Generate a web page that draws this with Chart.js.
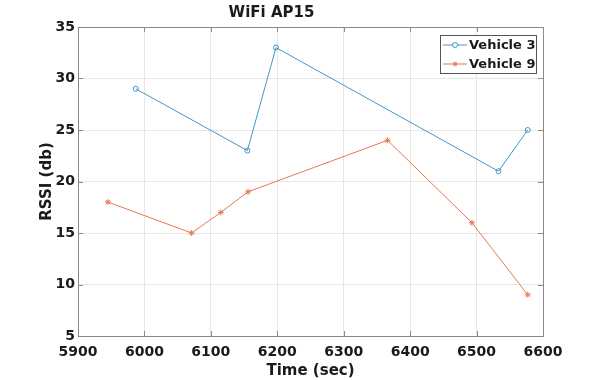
<!DOCTYPE html>
<html><head><meta charset="utf-8">
<script src="https://cdn.jsdelivr.net/npm/chart.js@4"></script>
<style>html,body{margin:0;padding:0;background:#fff}#wrap{width:600px;height:380px}</style>
</head><body><div id="wrap"><canvas id="c" width="600" height="380"></canvas></div>
<script>
const chartTitle = 'WiFi AP15';
const xTitle = 'Time (sec)';
const yTitle = 'RSSI (db)';
const seriesNames = ['Vehicle 3', 'Vehicle 9'];
const v3Time = [5987, 6155, 6198, 6533, 6577];
const v3Rssi = [29, 23, 33, 21, 25];
const v9Time = [5945, 6071, 6115, 6156, 6366, 6493, 6577];
const v9Rssi = [18, 15, 17, 19, 24, 16, 9];
const xTicks = [5900, 6000, 6100, 6200, 6300, 6400, 6500, 6600];
const yTicks = [5, 10, 15, 20, 25, 30, 35];

const blue = 'rgb(64,150,200)';
const orange = 'rgb(228,120,78)';
const FONT = 'DejaVu Sans';

const boxPlugin = {
  id: 'box',
  afterDatasetsDraw(chart) {
    const {ctx, chartArea: a, scales: {x, y}} = chart;
    ctx.save();
    ctx.strokeStyle = '#8a8a8a';
    ctx.lineWidth = 1;
    ctx.beginPath();
    for (const t of xTicks) {
      const px = Math.round(x.getPixelForValue(t)) + 0.5;
      ctx.moveTo(px, a.bottom); ctx.lineTo(px, a.bottom - 5);
      ctx.moveTo(px, a.top); ctx.lineTo(px, a.top + 5);
    }
    for (const t of yTicks) {
      const py = Math.round(y.getPixelForValue(t)) + 0.5;
      ctx.moveTo(a.left, py); ctx.lineTo(a.left + 5, py);
      ctx.moveTo(a.right, py); ctx.lineTo(a.right - 5, py);
    }
    ctx.stroke();
    ctx.strokeRect(Math.round(a.left) + 0.5, Math.round(a.top) + 0.5, Math.round(a.right - a.left), Math.round(a.bottom - a.top));
    // legend
    const lx = 440, ly = 35, lw = 96, lh = 38;
    ctx.fillStyle = '#fff';
    ctx.fillRect(lx, ly, lw, lh);
    ctx.strokeStyle = '#555';
    ctx.strokeRect(lx + 0.5, ly + 0.5, lw, lh);
    ctx.font = 'bold 13px "' + FONT + '"';
    ctx.textBaseline = 'middle';
    chart.data.datasets.forEach((ds, i) => {
      const yy = ly + 10 + i * 19;
      ctx.strokeStyle = ds.borderColor;
      ctx.lineWidth = 1;
      ctx.beginPath(); ctx.moveTo(lx + 3, yy); ctx.lineTo(lx + 27, yy); ctx.stroke();
      Chart.helpers.drawPoint(ctx, {pointStyle: ds.pointStyle, radius: 2.5, borderWidth: 1}, lx + 15, yy);
      ctx.fillStyle = '#1a1a1a';
      ctx.fillText(ds.label, lx + 29, yy + 1);
    });
    ctx.restore();
  }
};

new Chart(document.getElementById('c'), {
  type: 'line',
  data: {
    datasets: [
      {label: seriesNames[0], data: v3Time.map((t, i) => ({x: t, y: v3Rssi[i]})),
       borderColor: blue, backgroundColor: 'rgba(0,0,0,0)', borderWidth: 1,
       pointStyle: 'circle', pointRadius: 2.5, pointBorderColor: blue, pointBackgroundColor: 'rgba(0,0,0,0)', pointBorderWidth: 1, tension: 0},
      {label: seriesNames[1], data: v9Time.map((t, i) => ({x: t, y: v9Rssi[i]})),
       borderColor: orange, backgroundColor: orange, borderWidth: 1,
       pointStyle: 'star', pointRadius: 3, pointBorderColor: orange, pointBorderWidth: 1, tension: 0}
    ]
  },
  options: {
    responsive: false, animation: false, devicePixelRatio: 1,
    layout: {padding: {left: 0, right: 57, top: 0, bottom: 0}},
    plugins: {
      legend: {display: false},
      tooltip: {enabled: false},
      title: {display: true, text: chartTitle, color: '#1a1a1a',
        font: {family: FONT, size: 15, weight: 'bold'}, padding: {top: 4, bottom: 5}}
    },
    scales: {
      x: {type: 'linear', min: 5900, max: 6600,
        afterBuildTicks: s => { s.ticks = xTicks.map(v => ({value: v})); },
        afterFit: s => { s.height = 44; },
        grid: {color: '#e6e6e6', drawTicks: false},
        border: {display: false},
        ticks: {color: '#1a1a1a', font: {family: FONT, size: 14, weight: 'bold'}, padding: 8, maxRotation: 0, autoSkip: false,
          callback: v => String(v)},
        title: {display: true, text: xTitle, color: '#1a1a1a', font: {family: FONT, size: 15, weight: 'bold'}, padding: {top: 1, bottom: 0}}
      },
      y: {type: 'linear', min: 5, max: 35,
        afterBuildTicks: s => { s.ticks = yTicks.map(v => ({value: v})); },
        afterFit: s => { s.width = 78; },
        grid: {color: '#e6e6e6', drawTicks: false},
        border: {display: false},
        ticks: {color: '#1a1a1a', font: {family: FONT, size: 14, weight: 'bold'}, padding: 3, autoSkip: false,
          callback: v => String(v)},
        title: {display: true, text: yTitle, color: '#1a1a1a', font: {family: FONT, size: 15, weight: 'bold'}, padding: {top: 38, bottom: 0}}
      }
    }
  },
  plugins: [boxPlugin]
});
</script></body></html>
